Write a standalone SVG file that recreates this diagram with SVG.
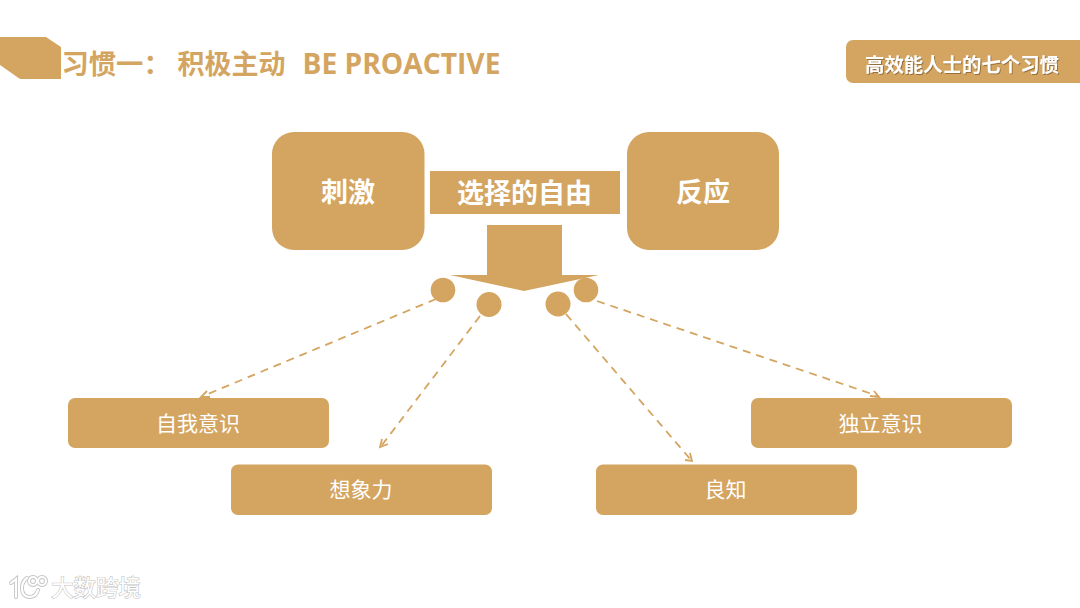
<svg xmlns="http://www.w3.org/2000/svg" width="1080" height="608" viewBox="0 0 1080 608">
<defs>
<style>
text{font-family:"Noto Sans CJK SC","Liberation Sans",sans-serif;text-anchor:middle}
.g{fill:#d4a561}
.t{fill:#fff}
.big{font-size:27px;font-weight:700}
.lab{font-size:21px;font-weight:400}
.c{fill:none;stroke:#d4a561;stroke-width:1.8;stroke-dasharray:8 6}
.h{fill:none;stroke:#d4a561;stroke-width:1.8}
.wm{fill:#fff;stroke:#c4c4c4;stroke-width:1.2;paint-order:stroke}
.lo{fill:none;stroke:#c4c4c4;stroke-width:4;stroke-linecap:round}
.li{fill:none;stroke:#fff;stroke-width:2.2;stroke-linecap:round}
</style>
<filter id="s" x="-5%" y="-20%" width="110%" height="140%"><feDropShadow dx="1" dy="1" stdDeviation=".6" flood-color="#7a5a2a" flood-opacity=".7"/></filter>
</defs>
<rect width="1080" height="608" fill="#fff"/>
<g id="header">
<polygon class="g" points="0,37 46,37 61,47 61,79 20,79 0,65"/>
<text x="61.500" y="74" style="text-anchor:start;font-size:27.300px;font-weight:700" class="g">习惯一：</text>
<text x="177.500" y="74" style="text-anchor:start;font-size:27px;font-weight:700" class="g">积极主动</text>
<text x="302.500" y="74" style="text-anchor:start;font-size:28.200px;font-weight:700;font-family:'Open Sans','Liberation Sans',sans-serif" class="g">BE PROACTIVE</text>
</g>
<g id="tag">
<path class="g" d="M1080,40H853a7,7 0 0 0 -7,7V76a7,7 0 0 0 7,7H1080Z"/>
<text class="t" x="962" y="71.500" style="font-size:19.400px;font-weight:700" filter="url(#s)">高效能人士的七个习惯</text>
</g>
<g id="connectors">
<path class="c" d="M436,299L203,396"/><path class="h" d="M207,391L201,397L210,397"/>
<path class="c" d="M480,316L382,445"/><path class="h" d="M382,439L380,447L388,444"/>
<path class="c" d="M566,314L691,460"/><path class="h" d="M685,460L692,461L690,453"/>
<path class="c" d="M597,301L878,396"/><path class="h" d="M870,396L879,397L874,391"/>
</g>
<g id="stimulus"><rect class="g" x="272" y="132" width="152.500" height="118" rx="22"/><text class="t big" x="348" y="202">刺激</text></g>
<g id="response"><rect class="g" x="627" y="132" width="152" height="118" rx="22"/><text class="t big" x="703" y="202">反应</text></g>
<g id="freedom"><rect class="g" x="430" y="171" width="190" height="43"/><text class="t big" x="524.500" y="203">选择的自由</text></g>
<g id="arrow"><polygon class="g" points="487,225 562,225 562,275 599,275 524,291 450,275 487,275"/></g>
<g id="dots">
<circle class="g" cx="443" cy="290" r="12.300"/>
<circle class="g" cx="489" cy="304.500" r="12.500"/>
<circle class="g" cx="558" cy="304" r="12.500"/>
<circle class="g" cx="586" cy="290" r="12.300"/>
</g>
<g id="self-awareness"><rect class="g" x="68" y="398" width="261" height="50" rx="7"/><text class="t lab" x="198" y="431">自我意识</text></g>
<g id="imagination"><rect class="g" x="231" y="464.500" width="261" height="50.500" rx="7"/><text class="t lab" x="361" y="497">想象力</text></g>
<g id="conscience"><rect class="g" x="596" y="464.500" width="261" height="50.500" rx="7"/><text class="t lab" x="725.500" y="497">良知</text></g>
<g id="independent-will"><rect class="g" x="751" y="398" width="261" height="50" rx="7"/><text class="t lab" x="880.500" y="431">独立意识</text></g>
<g id="watermark">
<path class="lo" d="M11,583L16,579V597M27,578C20,583 20,596 29,597C34,597 37,594 38,590"/>
<circle class="lo" cx="33" cy="581" r="4"/><circle class="lo" cx="42" cy="581" r="4"/>
<path class="li" d="M11,583L16,579V597M27,578C20,583 20,596 29,597C34,597 37,594 38,590"/>
<circle class="li" cx="33" cy="581" r="4"/><circle class="li" cx="42" cy="581" r="4"/>
<text class="wm" x="96" y="596" style="font-size:22.400px">大数跨境</text>
</g>
</svg>
